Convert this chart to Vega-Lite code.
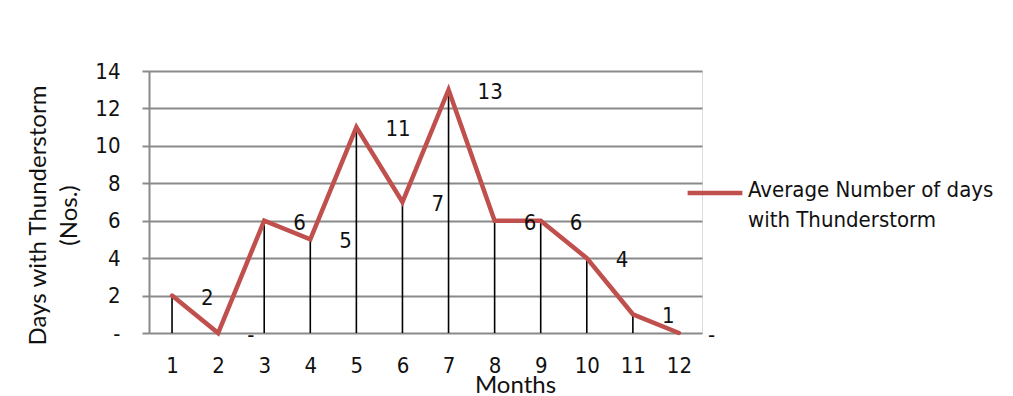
{
  "$schema": "https://vega.github.io/schema/vega-lite/v6.json",
  "width": 553,
  "height": 262,
  "autosize": {"type": "none"},
  "padding": {"left": 149, "top": 71, "right": 311, "bottom": 63},
  "background": "white",
  "data": {
    "values": [
      {"month": 1, "days": 2, "series": "Average Number of days with Thunderstorm"},
      {"month": 2, "days": 0, "series": "Average Number of days with Thunderstorm"},
      {"month": 3, "days": 6, "series": "Average Number of days with Thunderstorm"},
      {"month": 4, "days": 5, "series": "Average Number of days with Thunderstorm"},
      {"month": 5, "days": 11, "series": "Average Number of days with Thunderstorm"},
      {"month": 6, "days": 7, "series": "Average Number of days with Thunderstorm"},
      {"month": 7, "days": 13, "series": "Average Number of days with Thunderstorm"},
      {"month": 8, "days": 6, "series": "Average Number of days with Thunderstorm"},
      {"month": 9, "days": 6, "series": "Average Number of days with Thunderstorm"},
      {"month": 10, "days": 4, "series": "Average Number of days with Thunderstorm"},
      {"month": 11, "days": 1, "series": "Average Number of days with Thunderstorm"},
      {"month": 12, "days": 0, "series": "Average Number of days with Thunderstorm"}
    ]
  },
  "encoding": {
    "x": {
      "field": "month",
      "type": "ordinal",
      "scale": {"type": "point", "padding": 0.5},
      "axis": {
        "title": "Months",
        "titleFont": "Lato",
        "titleFontSize": 24,
        "titleFontWeight": "normal",
        "titleColor": "#111111",
        "titleAlign": "center",
        "titleBaseline": "alphabetic",
        "titleX": 366,
        "titleY": 59,
        "labelAngle": 0,
        "labelFont": "DejaVu Sans Condensed, Roboto, sans-serif",
        "labelFontSize": 22,
        "labelColor": "#111111",
        "labelBaseline": "middle",
        "labelPadding": 32,
        "ticks": false,
        "tickSize": 0,
        "grid": false,
        "domain": false
      }
    },
    "y": {
      "field": "days",
      "type": "quantitative",
      "scale": {"domain": [0, 14], "nice": false},
      "axis": {
        "values": [0, 2, 4, 6, 8, 10, 12, 14],
        "labelExpr": "datum.value === 0 ? '-\u00a0\u00a0\u00a0' : datum.label",
        "labelFont": "DejaVu Sans Condensed, Roboto, sans-serif",
        "labelFontSize": 22,
        "labelColor": "#111111",
        "labelPadding": 22,
        "tickSize": 7,
        "tickColor": "#8a8a8a",
        "tickWidth": 2,
        "domainColor": "#8a8a8a",
        "domainWidth": 2,
        "gridColor": "#8a8a8a",
        "gridWidth": 2,
        "title": ["Days with Thunderstorm", "(Nos.)"],
        "titleFont": "Lato",
        "titleFontSize": 24,
        "titleFontWeight": "normal",
        "titleColor": "#111111",
        "titleAngle": -90,
        "titleAlign": "center",
        "titleBaseline": "middle",
        "titleLineHeight": 31,
        "titleX": -111,
        "titleY": 144
      }
    }
  },
  "layer": [
    {
      "mark": {"type": "rule", "color": "#000000", "strokeWidth": 1.6},
      "encoding": {"y2": {"datum": 0}}
    },
    {
      "mark": {"type": "line", "strokeWidth": 4.5, "strokeCap": "round", "strokeJoin": "miter"},
      "encoding": {
        "color": {
          "field": "series",
          "type": "nominal",
          "scale": {"range": ["#c0504d"]},
          "legend": {
            "title": null,
            "orient": "none",
            "legendX": 536,
            "legendY": 92,
            "symbolType": "stroke",
            "symbolStrokeWidth": 4.5,
            "symbolSize": 3000,
            "labelExpr": "['Average Number of days', 'with Thunderstorm']",
            "labelFont": "DejaVu Sans Condensed, Roboto, sans-serif",
            "labelFontSize": 22,
            "labelColor": "#111111",
            "labelLimit": 400,
            "labelOffset": 3,
            "labelBaseline": "top",
            "encode": {
              "labels": {"update": {"lineHeight": {"value": 30}, "dy": {"value": -13}}}
            }
          }
        }
      }
    },
    {
      "mark": {"type": "text", "align": "left", "baseline": "middle", "dx": 29, "dy": 2, "font": "DejaVu Sans Condensed, Roboto, sans-serif", "fontSize": 22, "color": "#111111"},
      "encoding": {
        "text": {
          "condition": {"test": "datum.days === 0", "value": "-"},
          "field": "days",
          "type": "quantitative"
        }
      }
    }
  ]
}
